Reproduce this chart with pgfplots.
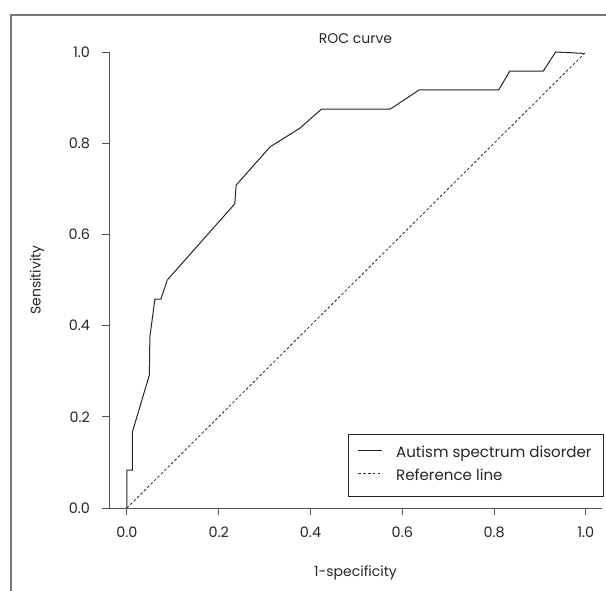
\documentclass[border=0pt]{standalone}
\usepackage{fontspec}
\setmainfont{Poppins}
\usepackage{pgfplots}
\pgfplotsset{compat=1.18}
\definecolor{axisgray}{RGB}{85,85,85}
\definecolor{framegray}{RGB}{120,120,120}

\begin{document}
\begin{tikzpicture}[x=1pt,y=1pt]
\path[use as bounding box] (-81.75,-61.5) rectangle (372.75,381);
\draw[framegray, line width=0.9pt] (-73.5,-70) -- (-73.5,369.75) -- (380,369.75);
\begin{axis}[
    at={(0,0)}, anchor=south west,
    scale only axis,
    width=369.75pt, height=342pt,
    xmin=-0.039, xmax=1.035,
    ymin=0, ymax=1,
    clip=false,
    axis x line=bottom, axis y line=left,
    axis line style={-, draw=axisgray, line width=0.7pt},
    tick align=outside,
    major tick length=5.25pt,
    tick style={draw=axisgray, line width=0.7pt},
    xtick={0,0.2,0.4,0.6,0.8,1.0},
    xticklabels={0.0,0.2,0.4,0.6,0.8,1.0},
    ytick={0,0.2,0.4,0.6,0.8,1.0},
    yticklabels={0.0,0.2,0.4,0.6,0.8,1.0},
    font=\fontsize{10.5}{12.6}\selectfont,
    ticklabel style={font=\fontsize{10.8}{13}\selectfont, text=black!85},
    xticklabel style={yshift=-5.25pt},
    yticklabel style={xshift=-5.5pt},
    every axis title shift=0pt,
    title={ROC curve},
    title style={at={(axis description cs:0.5,1)}, anchor=center, yshift=10pt, text=black!85},
    xlabel={1-specificity},
    xlabel style={at={(axis description cs:0.5,0)}, anchor=center, yshift=-48.75pt, text=black!85},
    ylabel={Sensitivity},
    ylabel style={at={(axis description cs:-0.146,0.5)}, anchor=center, text=black!85},
    legend style={at={(axis description cs:1.004,0.024)}, anchor=south east,
        draw=black!85, line width=0.6pt, fill=white,
        font=\fontsize{11.3}{13.5}\selectfont, text=black!85,
        inner xsep=7pt, inner ysep=7.5pt, row sep=2.5pt,
        nodes={inner sep=2pt, text height=8pt, text depth=2.5pt},
        /tikz/every odd column/.append style={column sep=8pt}},
    legend cell align=left,
    legend image code/.code={\draw[#1] (0pt,3pt) -- (18pt,3pt);},
]
\addplot[black!85, line width=0.75pt] coordinates {
    (0,0) (0,0.083) (0.012,0.083) (0.012,0.167) (0.049,0.292) (0.05,0.375)
    (0.061,0.458) (0.074,0.458) (0.088,0.5) (0.235,0.667) (0.238,0.708)
    (0.312,0.792) (0.377,0.833) (0.424,0.875) (0.574,0.875) (0.637,0.917)
    (0.81,0.917) (0.834,0.958) (0.907,0.958) (0.934,1.0) (0.995,0.997)
};
\addlegendentry{Autism spectrum disorder}
\addplot[black!85, line width=0.6pt, dash pattern=on 2pt off 1.6pt] coordinates {
    (0,0) (1,1)
};
\addlegendentry{Reference line}
\end{axis}
\end{tikzpicture}
\end{document}
